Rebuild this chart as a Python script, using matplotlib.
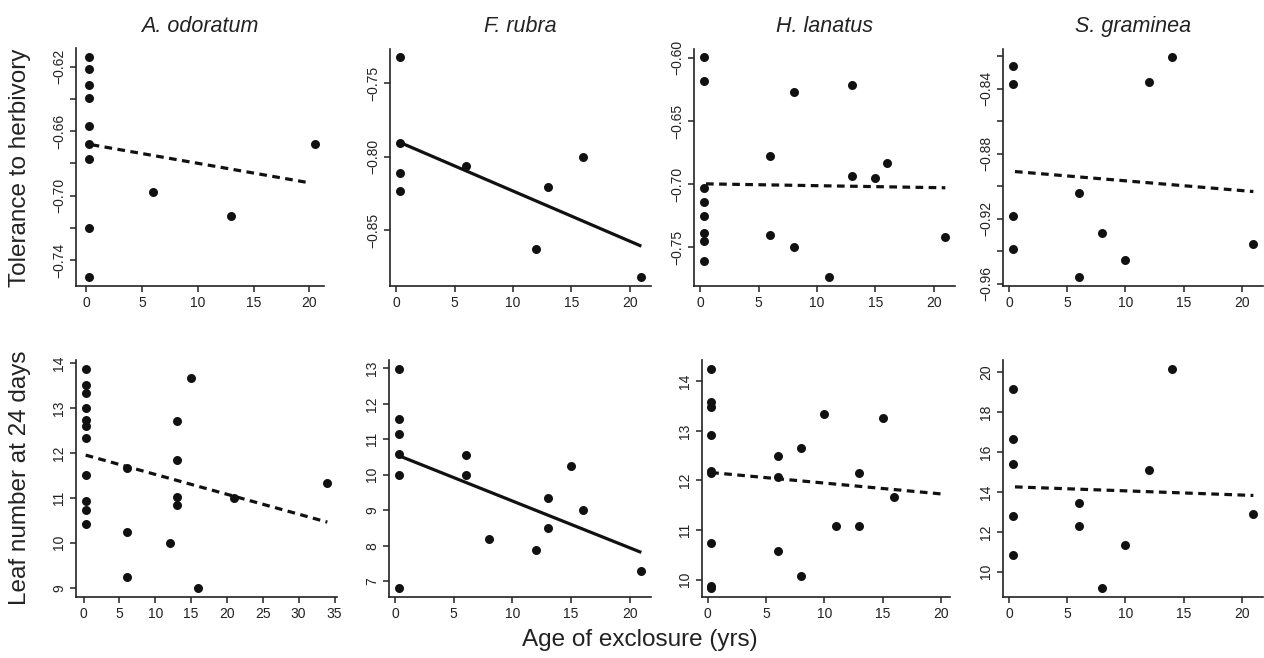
import matplotlib
matplotlib.use("Agg")
import matplotlib.pyplot as plt

plt.rcParams['font.family'] = ['Liberation Sans', 'DejaVu Sans']

# ---------------------- data ----------------------
species = ["A. odoratum", "F. rubra", "H. lanatus", "S. graminea"]

# tolerance to herbivory (top row)
tol_x_aodo = [0.3, 0.3, 0.3, 0.3, 0.3, 0.3, 0.3, 0.3, 0.3, 6, 13, 20.5]
tol_y_aodo = [-0.6142, -0.6217, -0.6315, -0.6392, -0.6565, -0.668, -0.6774, -0.72, -0.7505,
              -0.6977, -0.7123, -0.668]
tol_x_frub = [0.3, 0.3, 0.3, 0.3, 6, 12, 13, 16, 21]
tol_y_frub = [-0.7325, -0.7907, -0.8111, -0.8236, -0.8061, -0.8625, -0.8207, -0.8005, -0.882]
tol_x_hlan = [0.3, 0.3, 0.3, 0.3, 0.3, 0.3, 0.3, 0.3, 6, 6, 8, 8, 11, 13, 13, 15, 16, 21]
tol_y_hlan = [-0.5995, -0.6182, -0.7026, -0.7142, -0.725, -0.7383, -0.7451, -0.7604,
              -0.6776, -0.7401, -0.6272, -0.7499, -0.7736, -0.6211, -0.6937, -0.6953,
              -0.6831, -0.7414]
tol_x_sgra = [0.3, 0.3, 0.3, 0.3, 6, 6, 8, 10, 12, 14, 21]
tol_y_sgra = [-0.8257, -0.8368, -0.918, -0.9384, -0.9042, -0.9559, -0.9286, -0.9456,
              -0.8356, -0.8206, -0.9354]

# leaf number at 24 days (bottom row)
leaf_x_aodo = [0.3, 0.3, 0.3, 0.3, 0.3, 0.3, 0.3, 0.3, 0.3, 0.3, 0.3,
               6, 6, 6, 12, 13, 13, 13, 13, 15, 16, 21, 34]
leaf_y_aodo = [13.87, 13.51, 13.33, 13.0, 12.73, 12.59, 12.33, 11.5, 10.92, 10.74, 10.41,
               11.67, 10.24, 9.25, 10.0, 12.7, 11.84, 11.01, 10.83, 13.67, 8.99, 11.0, 11.33]
leaf_x_frub = [0.3, 0.3, 0.3, 0.3, 0.3, 0.3, 6, 6, 8, 12, 13, 13, 15, 16, 21]
leaf_y_frub = [12.99, 11.58, 11.15, 10.6, 9.99, 6.8, 10.56, 9.99, 8.2, 7.88, 9.34, 8.5,
               10.24, 9.0, 7.28]
leaf_x_hlan = [0.3, 0.3, 0.3, 0.3, 0.3, 0.3, 0.3, 0.3, 0.3, 6, 6, 6, 8, 8, 10, 11, 13, 13, 15, 16]
leaf_y_hlan = [14.25, 13.59, 13.48, 12.91, 12.19, 12.16, 10.74, 9.87, 9.83, 12.49, 12.08,
               10.58, 12.66, 10.07, 13.33, 11.08, 12.16, 11.08, 13.25, 11.67]
leaf_x_sgra = [0.3, 0.3, 0.3, 0.3, 0.3, 6, 6, 8, 10, 12, 14, 21]
leaf_y_sgra = [19.17, 16.65, 15.42, 12.8, 10.82, 13.42, 12.28, 9.17, 11.32, 15.08, 20.17, 12.87]

# fitted lines: (x start, x end, y start, y end), significant -> solid
tol_fits = [(0.5, 20.0, -0.6684, -0.692), (0.3, 21, -0.7903, -0.8609),
            (0.5, 21, -0.6997, -0.7028), (0.5, 21, -0.8909, -0.9032)]
leaf_fits = [(0.3, 34, 11.95, 10.46), (0.3, 21, 10.54, 7.81),
             (0.3, 20, 12.16, 11.73), (0.5, 21, 14.25, 13.82)]
tol_signif = [False, True, False, False]
leaf_signif = [False, True, False, False]

# y ticks and labels (R drops overlapping labels)
tol_yticks = [[-0.62, -0.64, -0.66, -0.68, -0.70, -0.72, -0.74],
              [-0.75, -0.80, -0.85],
              [-0.60, -0.65, -0.70, -0.75],
              [-0.82, -0.84, -0.86, -0.88, -0.90, -0.92, -0.94, -0.96]]
tol_ylabels = [["\u22120.62", "", "\u22120.66", "", "\u22120.70", "", "\u22120.74"],
               ["\u22120.75", "\u22120.80", "\u22120.85"],
               ["\u22120.60", "\u22120.65", "\u22120.70", "\u22120.75"],
               ["", "\u22120.84", "", "\u22120.88", "", "\u22120.92", "", "\u22120.96"]]
leaf_yticks = [[9, 10, 11, 12, 13, 14], [7, 8, 9, 10, 11, 12, 13],
               [10, 11, 12, 13, 14], [10, 12, 14, 16, 18, 20]]
xticks_short = [0, 5, 10, 15, 20]
xticks_long = [0, 5, 10, 15, 20, 25, 30, 35]

tol_x = [tol_x_aodo, tol_x_frub, tol_x_hlan, tol_x_sgra]
tol_y = [tol_y_aodo, tol_y_frub, tol_y_hlan, tol_y_sgra]
leaf_x = [leaf_x_aodo, leaf_x_frub, leaf_x_hlan, leaf_x_sgra]
leaf_y = [leaf_y_aodo, leaf_y_frub, leaf_y_hlan, leaf_y_sgra]

# ---------------------- layout (pixels) ----------------------
W, H = 1264, 658
top_boxes = [(76, 324), (390, 651), (694, 955), (1003, 1263)]
bot_boxes = [(76, 337), (389, 651), (702, 950), (1003, 1263)]
top_row = (48.5, 286)
bot_row = (360, 597)

fig = plt.figure(figsize=(W / 100, H / 100), dpi=100)


def make_ax(box, row):
    l, r = box
    t, b = row
    return fig.add_axes([l / W, 1 - b / H, (r - l) / W, (b - t) / H])


def style(ax, xs, ys, fit, signif, yticks, ylabels, xticks):
    ax.scatter(xs, ys, s=42, color='#111111', zorder=3, linewidths=0)
    x0, x1, y0, y1 = fit
    if signif:
        ax.plot([x0, x1], [y0, y1], color='#111111', lw=2.3, solid_capstyle='butt')
    else:
        ax.plot([x0, x1], [y0, y1], color='#111111', lw=2.3, linestyle=(0, (2.4, 1.7)))
    ax.margins(x=0.04, y=0.04)
    for s in ['top', 'right']:
        ax.spines[s].set_visible(False)
    for s in ['left', 'bottom']:
        ax.spines[s].set_linewidth(1.2)
        ax.spines[s].set_color('#222222')
    ax.set_xticks(xticks)
    ax.set_xticklabels([str(v) for v in xticks])
    ax.set_yticks(yticks)
    ax.set_yticklabels(ylabels, rotation=90, va='center')
    ax.tick_params(direction='out', length=4, width=1.1, labelsize=10,
                   colors='#222222', pad=3)


for i in range(4):
    ax = make_ax(top_boxes[i], top_row)
    style(ax, tol_x[i], tol_y[i], tol_fits[i], tol_signif[i],
          tol_yticks[i], tol_ylabels[i], xticks_short)
    ax.set_title(species[i], fontsize=15.5, style='italic', pad=12, color='#222222')
    if i == 0:
        ax.set_xlim(-0.9, 21.3)

    ax = make_ax(bot_boxes[i], bot_row)
    style(ax, leaf_x[i], leaf_y[i], leaf_fits[i], leaf_signif[i],
          leaf_yticks[i], [str(v) for v in leaf_yticks[i]],
          xticks_long if i == 0 else xticks_short)

fig.text(20 / W, 1 - 168 / H, "Tolerance to herbivory", rotation=90, fontsize=17.5,
         ha='center', va='center', color='#222222')
fig.text(20 / W, 1 - 478 / H, "Leaf number at 24 days", rotation=90, fontsize=17.5,
         ha='center', va='center', color='#222222')
fig.text(640 / W, 1 - 640 / H, "Age of exclosure (yrs)", fontsize=17.5,
         ha='center', va='center', color='#222222')

fig.savefig("out.png", dpi=100)
